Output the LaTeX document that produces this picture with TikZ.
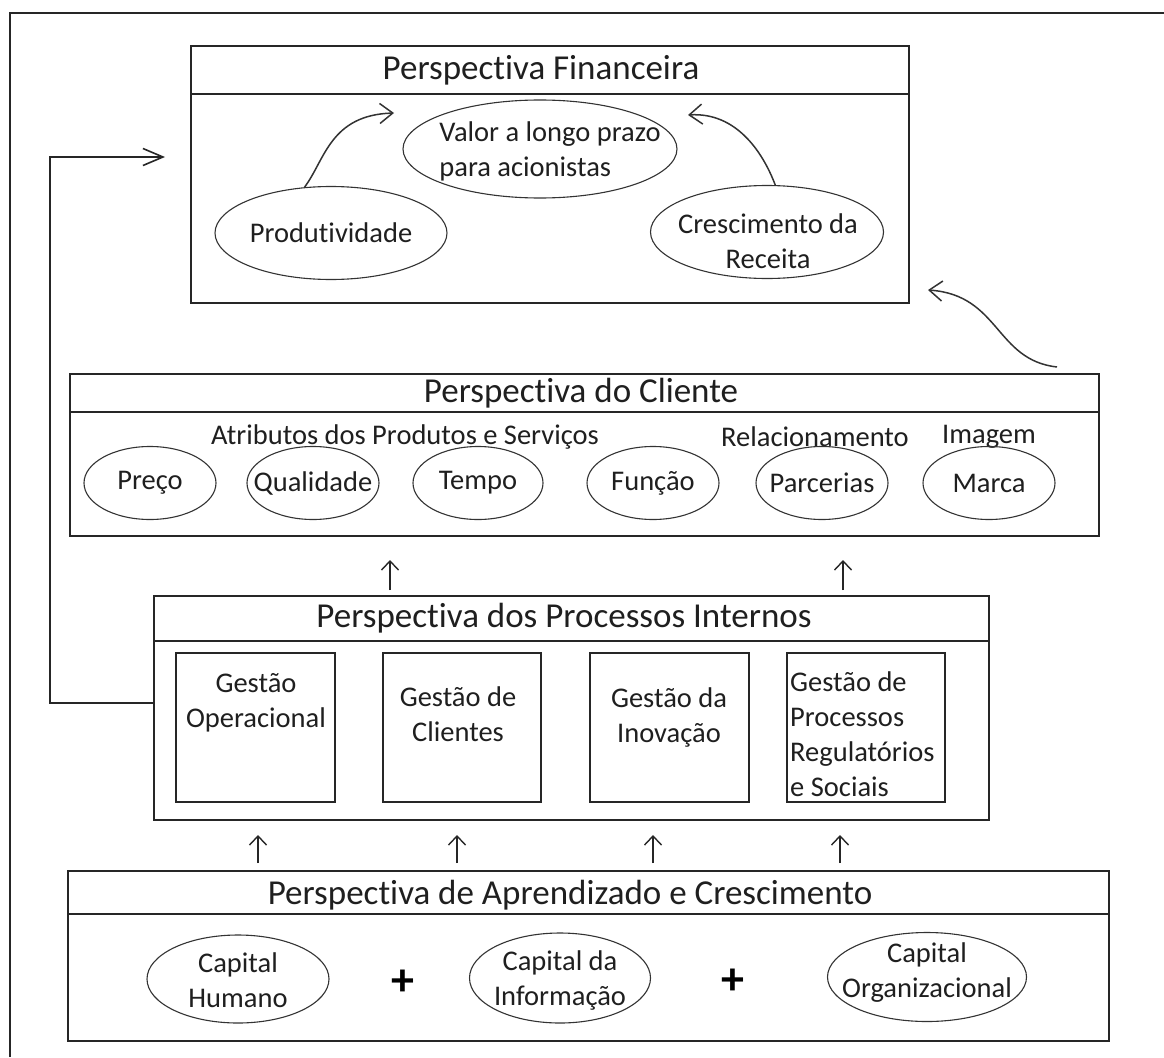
\documentclass[tikz,border=0pt]{standalone}
\usepackage{fontspec}
\setmainfont[Ligatures=NoCommon]{Carlito}
\usetikzlibrary{arrows.meta,shapes.geometric,calc}
\begin{document}
\begin{tikzpicture}[x=1pt,y=-1pt,
  outline/.style={draw=black!85, line width=1.8pt},
  panel/.style={draw=black!85, line width=1.8pt, rectangle, inner sep=0pt, anchor=north west},
  cell/.style={draw=black!85, line width=1.6pt, rectangle, inner sep=0pt, anchor=north west},
  oval/.style={draw=black!80, line width=1.1pt, ellipse, inner sep=0pt},
  ttl/.style={font=\fontsize{35}{40}\selectfont, text=black!88, inner sep=0pt},
  txt/.style={font=\fontsize{28.5}{35}\selectfont, text=black!88, inner sep=0pt, align=center},
  plussign/.style={font=\fontsize{46}{46}\selectfont\bfseries, text=black, inner sep=0pt},
  curvearr/.style={draw=black!80, line width=1.5pt, -{Straight Barb[length=13pt,width=20pt]}},
  uparr/.style={draw=black!85, line width=1.4pt, -{Straight Barb[length=9pt,width=17pt]}},
  fbarr/.style={draw=black!85, line width=1.6pt, -{Straight Barb[length=20pt,width=17pt]}}
]
\fill[white] (0,0) rectangle (1164,1057);
\useasboundingbox (0,0) rectangle (1164,1057);

% outer frame
\draw[outline] (10,1057) -- (10,13) -- (1164,13);

% ---------- Perspectiva Financeira ----------
\node[panel, minimum width=718, minimum height=257] (fin) at (190,45) {};
\draw[outline] ([yshift=-49]fin.north west) -- ([yshift=-49]fin.north east);
\node[ttl] (finT) at (541,70) {Perspectiva Financeira};
\node[oval, minimum width=274, minimum height=98] (val) at (540,149) {};
\node[txt, align=left] (valT) at (550,151) {Valor a longo prazo\\para acionistas};
\node[oval, minimum width=232, minimum height=93] (prod) at (331,233) {};
\node[txt] (prodT) at (prod) {Produtividade};
\node[oval, minimum width=233, minimum height=93] (rec) at (767,232) {};
\node[txt] (recT) at (768,241) {Crescimento da\\Receita};
\coordinate (valL) at (394,113);
\coordinate (valR) at (688,115);
\draw[curvearr] (prod.120) .. controls (325,160) and (330,115) .. (valL);
\draw[curvearr] (rec.80) .. controls (762,150) and (735,112) .. (valR);

% ---------- Perspectiva do Cliente ----------
\node[panel, minimum width=1029, minimum height=162] (cli) at (69,373) {};
\draw[outline] ([yshift=-39]cli.north west) -- ([yshift=-39]cli.north east);
\node[ttl] (cliT) at (581,393) {Perspectiva do Cliente};
\node[txt] (attr) at (405,437) {Atributos dos Produtos e Serviços};
\node[txt] (rel) at (815,437) {Relacionamento};
\node[txt] (img) at (989,437) {Imagem};
\node[oval, minimum width=132, minimum height=73] (preco) at (150,483) {};
\node[txt] at (preco) {Preço};
\node[oval, minimum width=132, minimum height=73] (qual) at (313,483) {};
\node[txt] at (qual) {Qualidade};
\node[oval, minimum width=130, minimum height=73] (tempo) at (478,483) {};
\node[txt] at (tempo) {Tempo};
\node[oval, minimum width=132, minimum height=73] (funcao) at (653,483) {};
\node[txt] at (funcao) {Função};
\node[oval, minimum width=132, minimum height=73] (parc) at (822,483) {};
\node[txt] at (parc) {Parcerias};
\node[oval, minimum width=132, minimum height=73] (marca) at (989,483) {};
\node[txt] at (marca) {Marca};

\coordinate (cliA) at (1057,367);
\coordinate (finA) at (928,290);
\draw[curvearr] (cliA) .. controls (995,360) and (1000,295) .. (finA);

% ---------- Perspectiva dos Processos Internos ----------
\node[panel, minimum width=835, minimum height=224] (proc) at (153,595) {};
\draw[outline] ([yshift=-46]proc.north west) -- ([yshift=-46]proc.north east);
\node[ttl] (procT) at (564,618) {Perspectiva dos Processos Internos};
\node[cell, minimum width=159, minimum height=149] (g1) at (175,652) {};
\node[cell, minimum width=158, minimum height=149] (g2) at (382,652) {};
\node[cell, minimum width=159, minimum height=149] (g3) at (589,652) {};
\node[cell, minimum width=158, minimum height=149] (g4) at (786,652) {};
\node[txt] (g1T) at (256,703) {Gestão\\Operacional};
\node[txt] (g2T) at (458,714) {Gestão de\\Clientes};
\node[txt] (g3T) at (669,717) {Gestão da\\Inovação};
\node[txt, align=left, anchor=west] (g4T) at (790,734) {Gestão de\\Processos\\Regulatórios\\e Sociais};

\draw[uparr] ($(proc.north west)+(237,-5)$) -- ++(0,-30);
\draw[uparr] ($(proc.north west)+(690,-5)$) -- ++(0,-30);

% feedback to the financial perspective
\coordinate (fbEnd) at (165,157);
\draw[fbarr] ([yshift=5]proc.west) -- ++(-103,0) |- (fbEnd);

% ---------- Perspectiva de Aprendizado e Crescimento ----------
\node[panel, minimum width=1041, minimum height=170] (learn) at (67,870) {};
\draw[outline] ([yshift=-44]learn.north west) -- ([yshift=-44]learn.north east);
\node[ttl] (learnT) at (570,895) {Perspectiva de Aprendizado e Crescimento};

\draw[uparr] ($(learn.north west)+(191,-7)$) -- ++(0,-28);
\draw[uparr] ($(learn.north west)+(390,-7)$) -- ++(0,-28);
\draw[uparr] ($(learn.north west)+(586,-7)$) -- ++(0,-28);
\draw[uparr] ($(learn.north west)+(773,-7)$) -- ++(0,-28);

\node[oval, minimum width=182, minimum height=88] (hum) at (238,979) {};
\node[txt] at (238,980) {Capital\\Humano};
\node[plussign] (p1) at (403,983) {+};
\node[oval, minimum width=181, minimum height=90] (inf) at (560,978) {};
\node[txt] at (560,980) {Capital da\\Informação};
\node[plussign] (p2) at (733,982) {+};
\node[oval, minimum width=199, minimum height=89] (org) at (927,977) {};
\node[txt] at (927,973) {Capital\\Organizacional};
\end{tikzpicture}
\end{document}
